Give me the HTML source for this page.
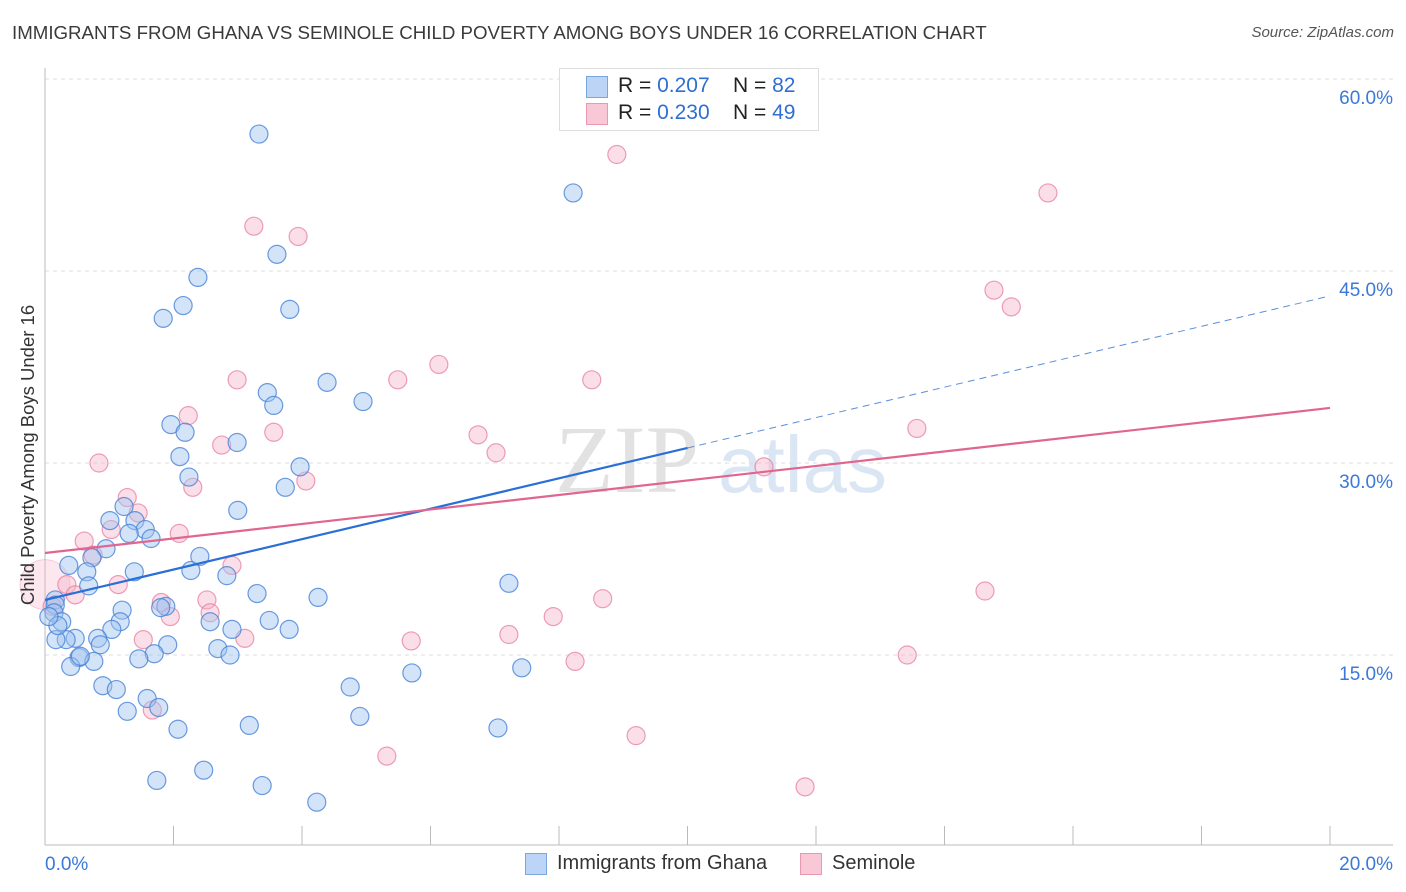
<!DOCTYPE html>
<html><head><meta charset="utf-8"><style>
body{margin:0;background:#fff;font-family:"Liberation Sans",sans-serif;}
#wrap{position:relative;width:1406px;height:892px;overflow:hidden;}
.t{position:absolute;white-space:nowrap;}
</style></head><body>
<div id="wrap">
<div class="t" style="left:12px;top:22px;font-size:18.7px;color:#3a3a3a;">IMMIGRANTS FROM GHANA VS SEMINOLE CHILD POVERTY AMONG BOYS UNDER 16 CORRELATION CHART</div>
<div class="t" style="right:12px;top:24px;font-size:15px;color:#555;font-style:italic;">Source: ZipAtlas.com</div>
<svg id="svg" width="1406" height="892" style="position:absolute;left:0;top:0">
<text x="555" y="492" font-family="Liberation Serif,serif" font-size="96" fill="#e2e2e2">ZIP</text>
<text x="718" y="492" font-family="Liberation Sans,sans-serif" font-size="80" fill="#dbe6f5">atlas</text>
</svg>
<div class="t" style="left:18px;top:455px;transform:translate(-50%,-50%) rotate(-90deg);transform-origin:center;font-size:18.5px;color:#333;margin-left:10px;">Child Poverty Among Boys Under 16</div>
<div style="position:absolute;left:559px;top:68px;width:258px;height:61px;border:1px solid #ddd;background:#fff;">
 <div style="position:absolute;left:26px;top:7px;width:20px;height:20px;background:#bcd4f5;border:1px solid #7aa6e0;"></div>
 <div class="t" style="left:58px;top:5px;font-size:21px;color:#222">R = <span style="color:#2f6fd0">0.207</span>&nbsp;&nbsp;&nbsp; N = <span style="color:#2f6fd0">82</span></div>
 <div style="position:absolute;left:26px;top:34px;width:20px;height:20px;background:#f9c8d6;border:1px solid #eb98b2;"></div>
 <div class="t" style="left:58px;top:32px;font-size:21px;color:#222">R = <span style="color:#2f6fd0">0.230</span>&nbsp;&nbsp;&nbsp; N = <span style="color:#2f6fd0">49</span></div>
</div>
<div style="position:absolute;left:525px;top:853px;width:20px;height:20px;background:#bcd4f5;border:1px solid #7aa6e0;"></div>
<div class="t" style="left:557px;top:852px;font-size:20px;color:#333">Immigrants from Ghana</div>
<div style="position:absolute;left:800px;top:853px;width:20px;height:20px;background:#f9c8d6;border:1px solid #eb98b2;"></div>
<div class="t" style="left:832px;top:852px;font-size:20px;color:#333">Seminole</div>
</div>
<script>
const xTicks=[0,20];
const yTicks=[15,30,45,60];
const ghanaX=[3.33,8.22,3.61,2.38,2.15,1.84,3.81,3.46,4.39,3.56,4.95,1.96,2.18,2.99,2.10,3.97,2.24,3.74,1.23,3.00,1.01,1.40,1.56,1.31,1.65,0.95,0.73,0.37,0.65,1.39,2.27,2.41,2.83,7.22,3.30,4.25,0.68,0.16,0.16,1.88,1.20,0.14,0.26,3.49,2.57,1.17,1.04,2.91,3.80,0.82,0.47,0.33,0.17,0.86,1.91,2.69,1.70,2.88,1.46,0.53,0.76,0.40,5.71,7.42,0.90,1.11,4.75,1.59,1.77,1.28,4.90,2.07,3.18,7.05,2.47,1.74,3.38,4.23,0.55,0.20,0.06,1.80];
const ghanaY=[55.7,51.1,46.3,44.5,42.3,41.3,42.0,35.5,36.3,34.5,34.8,33.0,32.4,31.6,30.5,29.7,28.9,28.1,26.6,26.3,25.5,25.5,24.8,24.5,24.1,23.3,22.6,22.0,21.5,21.5,21.6,22.7,21.2,20.6,19.8,19.5,20.4,19.3,18.9,18.8,18.5,18.3,17.6,17.7,17.6,17.6,17.0,17.0,17.0,16.3,16.3,16.2,16.2,15.8,15.8,15.5,15.1,15.0,14.7,14.8,14.5,14.1,13.6,14.0,12.6,12.3,12.5,11.6,10.9,10.6,10.2,9.2,9.5,9.3,6.0,5.2,4.8,3.5,14.9,17.3,18.0,18.7];
const semX=[8.90,15.61,3.25,3.94,14.77,15.04,2.99,5.49,6.13,8.51,2.23,2.75,3.56,6.74,7.02,13.57,0.84,11.19,2.30,4.06,1.28,1.45,1.03,2.09,0.61,0.75,2.91,1.14,0.34,0.47,1.81,2.52,8.68,14.63,2.57,7.91,0.11,1.53,3.11,5.70,7.22,8.25,13.42,1.67,9.20,5.32,11.83,1.95];
const semY=[54.1,51.1,48.5,47.7,43.5,42.2,36.5,36.5,37.7,36.5,33.7,31.4,32.4,32.2,30.8,32.7,30.0,29.7,28.1,28.6,27.3,26.1,24.8,24.5,23.9,22.8,22.0,20.5,20.5,19.7,19.1,19.3,19.4,20.0,18.3,18.0,18.8,16.2,16.3,16.1,16.6,14.5,15.0,10.7,8.7,7.1,4.7,18.0];
const bigSem=[0.0,20.5];
const ghanaTrend=[19.3,43.05];
const semTrend=[22.97,34.3];
const ghanaSolidEnd=10.0;
const sx=v=>45+v/20*1285;
const sy=v=>847-v*12.8;
const svg=document.getElementById('svg');
const NS='http://www.w3.org/2000/svg';
function mk(tag,attrs){const e=document.createElementNS(NS,tag);for(const k in attrs)e.setAttribute(k,attrs[k]);svg.appendChild(e);return e;}
yTicks.forEach(t=>{const g=mk('line',{x1:45,x2:1393,y1:sy(t),y2:sy(t),stroke:'#ddd','stroke-dasharray':'4,4'});


const l=mk('text',{x:1393,y:sy(t)+25,'text-anchor':'end','font-size':19,fill:'#3b78d8','font-family':'Liberation Sans,sans-serif'});l.textContent=t.toFixed(1)+'%';

});
const ax=mk('line',{x1:45,x2:45,y1:68,y2:845,stroke:'#bbb'});


const bx=mk('line',{x1:45,x2:1393,y1:845,y2:845,stroke:'#bbb'});


for(let i=0;i<=10;i++){const tk=mk('line',{x1:sx(i*2),x2:sx(i*2),y1:826,y2:845,stroke:'#bbb'});

}
xTicks.forEach((t,i)=>{const l=mk('text',{x:i==0?45:1393,y:870,'text-anchor':i==0?'start':'end','font-size':19,fill:'#3b78d8','font-family':'Liberation Sans,sans-serif'});l.textContent=t.toFixed(1)+'%';

});
function dot(x,y,r,fill,stroke,name){const c=mk('circle',{cx:sx(x),cy:sy(y),r:r,fill:fill,stroke:stroke,'stroke-width':1.2});

}
const bs=mk('circle',{cx:sx(bigSem[0]),cy:sy(bigSem[1]),r:25,fill:'rgba(246,175,198,0.3)',stroke:'rgba(232,130,165,0.35)'});


semX.forEach((x,i)=>dot(x,semY[i],9,'rgba(246,175,198,0.4)','rgba(232,125,160,0.75)','seminole-point'));
ghanaX.forEach((x,i)=>dot(x,ghanaY[i],9,'rgba(160,195,240,0.45)','rgba(70,130,215,0.8)','ghana-point'));
const gy=x=>ghanaTrend[0]+(ghanaTrend[1]-ghanaTrend[0])*x/20;
const l1=mk('line',{x1:sx(0),y1:sy(gy(0)),x2:sx(ghanaSolidEnd),y2:sy(gy(ghanaSolidEnd)),stroke:'#2a6fd6','stroke-width':2.2});


const l2=mk('line',{x1:sx(ghanaSolidEnd),y1:sy(gy(ghanaSolidEnd)),x2:sx(20),y2:sy(gy(20)),stroke:'#5a8fd8','stroke-width':1,'stroke-dasharray':'7,5'});


const l3=mk('line',{x1:sx(0),y1:sy(semTrend[0]),x2:sx(20),y2:sy(semTrend[1]),stroke:'#e0668f','stroke-width':2.2});


</script>
</body></html>
